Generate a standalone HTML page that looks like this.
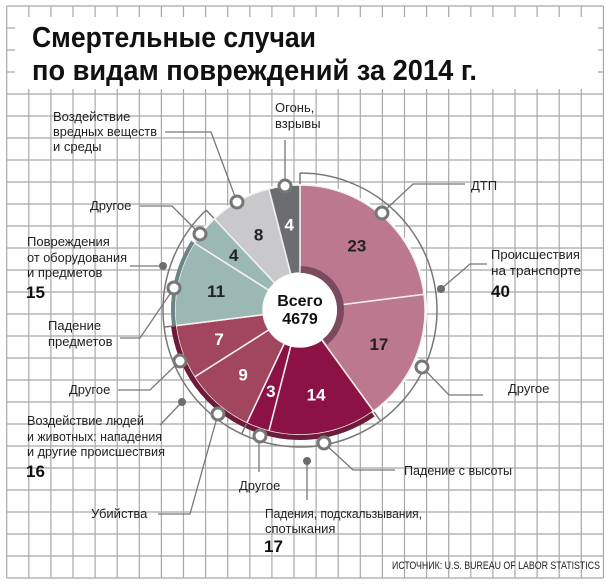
<!DOCTYPE html>
<html><head><meta charset="utf-8"><style>
html,body{margin:0;padding:0;background:#fff}
svg{display:block}
text{font-family:"Liberation Sans",sans-serif}
.lb{font-size:13px;fill:#222}
.big{font-size:17px;font-weight:bold;fill:#111}
.ld{fill:none;stroke:#777;stroke-width:1.3}
</style></head><body>
<svg id="c" width="612" height="587" viewBox="0 0 612 587">
<g id="grid"></g>
<rect x="15" y="17" width="583" height="72" fill="#fff"/>
<text x="32" y="47" font-size="29" font-weight="bold" fill="#111" textLength="284" lengthAdjust="spacingAndGlyphs">Смертельные случаи</text>
<text x="32" y="80" font-size="29" font-weight="bold" fill="#111" textLength="445" lengthAdjust="spacingAndGlyphs">по видам повреждений за 2014 г.</text>
<g id="pie"></g>
<g id="ann">
<polyline class="ld" points="165,132 211,132 237,202"/>
<polyline class="ld" points="285,140 285,186"/>
<polyline class="ld" points="140,206 172,206 200,234"/>
<polyline class="ld" points="130,266 163,266"/>
<polyline class="ld" points="120,338 140,338 174,288"/>
<polyline class="ld" points="118,390 150,390 180,361"/>
<polyline class="ld" points="160,425 182,402"/>
<polyline class="ld" points="158,514 190,514 218,414"/>
<polyline class="ld" points="259,436 259,472"/>
<polyline class="ld" points="307,461 307,500"/>
<polyline class="ld" points="324,443 353,470 395,470"/>
<polyline class="ld" points="422,367 449,395 483,395"/>
<polyline class="ld" points="382,213 413,184 465,184"/>
<polyline class="ld" points="441,289 470,264 487,264"/>
<g id="marks"></g>
<text class="lb" x="53" y="121">Воздействие</text>
<text class="lb" x="53" y="136" textLength="104" lengthAdjust="spacingAndGlyphs">вредных веществ</text>
<text class="lb" x="53" y="151">и среды</text>
<text class="lb" x="275" y="112">Огонь,</text>
<text class="lb" x="275" y="128">взрывы</text>
<text class="lb" x="90" y="210">Другое</text>
<text class="lb" x="27" y="246">Повреждения</text>
<text class="lb" x="27" y="262" textLength="100" lengthAdjust="spacingAndGlyphs">от оборудования</text>
<text class="lb" x="27" y="277">и предметов</text>
<text class="big" x="26" y="298">15</text>
<text class="lb" x="48" y="330">Падение</text>
<text class="lb" x="48" y="346">предметов</text>
<text class="lb" x="69" y="394">Другое</text>
<text class="lb" x="27" y="425" textLength="117" lengthAdjust="spacingAndGlyphs">Воздействие людей</text>
<text class="lb" x="27" y="441" textLength="135" lengthAdjust="spacingAndGlyphs">и животных: нападения</text>
<text class="lb" x="27" y="456" textLength="138" lengthAdjust="spacingAndGlyphs">и другие происшествия</text>
<text class="big" x="26" y="477">16</text>
<text class="lb" x="91" y="518">Убийства</text>
<text class="lb" x="239" y="490">Другое</text>
<text class="lb" x="265" y="518" textLength="157" lengthAdjust="spacingAndGlyphs">Падения, подскальзывания,</text>
<text class="lb" x="265" y="533">спотыкания</text>
<text class="big" x="264" y="552">17</text>
<text class="lb" x="404" y="475" textLength="108" lengthAdjust="spacingAndGlyphs">Падение с высоты</text>
<text class="lb" x="508" y="393">Другое</text>
<text class="lb" x="471" y="190">ДТП</text>
<text class="lb" x="491" y="259">Происшествия</text>
<text class="lb" x="491" y="275" textLength="90" lengthAdjust="spacingAndGlyphs">на транспорте</text>
<text class="big" x="491" y="297">40</text>
<text x="392" y="569" font-size="11" fill="#222" textLength="208" lengthAdjust="spacingAndGlyphs">ИСТОЧНИК: U.S. BUREAU OF LABOR STATISTICS</text>
</g>
</svg>
<script>
const categories = ["ДТП","Другое транспорт","Падение с высоты","Другое падения","Убийства","Другое насилие","Падение предметов","Другое оборудование","Вредные вещества","Огонь, взрывы"];
const values = [23,17,14,3,9,7,11,4,8,4];
const groupSizes = [2,2,2,2,1,1];
const colors = ["#bc788e","#bc788e","#8c1246","#8c1246","#a2465f","#a2465f","#9bb8b4","#9bb8b4","#c9c9cb","#6c6d71"];
const darkText = [true,true,false,false,false,false,true,true,true,false];
const NS="http://www.w3.org/2000/svg";
const cx=300,cy=310,R=125,r0=37;
function pt(a,r){const t=a*Math.PI/180;return [cx+r*Math.sin(t),cy-r*Math.cos(t)];}
function mk(tag,attrs,parent){const e=document.createElementNS(NS,tag);for(const k in attrs)e.setAttribute(k,attrs[k]);parent.appendChild(e);return e;}
function arcPath(a0,a1,ro,ri){const p1=pt(a0,ro),p2=pt(a1,ro),p3=pt(a1,ri),p4=pt(a0,ri);const L=(a1-a0)>180?1:0;
return `M${p1[0]},${p1[1]}A${ro},${ro} 0 ${L} 1 ${p2[0]},${p2[1]}L${p3[0]},${p3[1]}A${ri},${ri} 0 ${L} 0 ${p4[0]},${p4[1]}Z`;}
// grid
const g=document.getElementById('grid');
for(let i=0;i<=27;i++){const x=6.7+i*22.1;const l=mk('line',{x1:x,y1:6,x2:x,y2:578,stroke:'#a8a8a8','stroke-width':1.2},g);

}
for(let j=0;j<=26;j++){const y=6+j*22;const l=mk('line',{x1:6.7,y1:y,x2:603.4,y2:y,stroke:'#a8a8a8','stroke-width':1.2},g);

}
// pie
const pie=document.getElementById('pie');
const total=values.reduce((a,b)=>a+b,0);
mk('circle',{cx:cx,cy:cy,r:R+2,fill:'#fff'},pie);
const starts=[];let acc=0;
values.forEach((v,i)=>{const a0=acc/total*360,a1=(acc+v)/total*360;starts.push([a0,a1]);acc+=v;
const p=mk('path',{d:arcPath(a0,a1,R,r0),fill:colors[i],stroke:'#f4f0f0','stroke-width':1.5},pie);


const m=(a0+a1)/2,c=pt(m,86);
const t=mk('text',{x:c[0],y:c[1]+6,'text-anchor':'middle','font-size':17,'font-weight':'bold',fill:darkText[i]?'#222':'#fff'},pie);
t.textContent=v;


});
// groups
let gi=0;const gAngles=[];
groupSizes.forEach(n=>{gAngles.push([starts[gi][0],starts[gi+n-1][1]]);gi+=n;});
const bandColors=[null,"#6e1a3a","#6e1a3a",null,null,null];
const bc={1:"#6e1a3a",2:"#6e1a3a"};
// falls and violence band; equipment band
const fa=[gAngles[1][0],gAngles[2][1]];
const b1=mk('path',{d:arcPath(fa[0]+1,fa[1],R+5,R),fill:'#6e1a3a'},pie);


const ea=[starts[6][0],starts[6][1]];
const b2=mk('path',{d:arcPath(ea[0],ea[1],R+4,R),fill:'#6b8584'},pie);


// inner ring for transport
const ir=mk('path',{d:arcPath(gAngles[0][0]+1,gAngles[0][1]-2,r0+7,r0),fill:'#7b4a5f'},pie);


mk('circle',{cx:cx,cy:cy,r:r0,fill:'#fff'},pie);
const tt=mk('text',{x:cx,y:cy-4,'text-anchor':'middle','font-size':16,'font-weight':'bold',fill:'#111'},pie);tt.textContent='Всего';


const tv=mk('text',{x:cx,y:cy+14,'text-anchor':'middle','font-size':16,'font-weight':'bold',fill:'#111'},pie);tv.textContent='4679';


// outer arc
const RA=137,endA=gAngles[3][1];
const s=pt(0,RA),e=pt(endA,RA);
const oa=mk('path',{d:`M${s[0]},${s[1]}A${RA},${RA} 0 1 1 ${e[0]},${e[1]}`,fill:'none',stroke:'#777','stroke-width':1.5},pie);


[0,gAngles[0][1],gAngles[1][1],gAngles[2][1],gAngles[3][1]].forEach(a=>{const p1=pt(a,R+1),p2=pt(a,RA);
const l=mk('line',{x1:p1[0],y1:p1[1],x2:p2[0],y2:p2[1],stroke:'#777','stroke-width':1.5},pie);

});
// markers
const marks=document.getElementById('marks');
const hollow=[[382,213],[422,367],[324,443],[260,436],[218,414],[180,361],[174,288],[200,234],[237,202],[285,186]];
hollow.forEach(p=>{const c=mk('circle',{cx:p[0],cy:p[1],r:6,fill:'#fff',stroke:'#777','stroke-width':3},marks);

});
[[441,289],[307,461],[182,402],[163,266]].forEach(p=>{const c=mk('circle',{cx:p[0],cy:p[1],r:4,fill:'#6d6d70'},marks);

});
</script>
</body></html>
